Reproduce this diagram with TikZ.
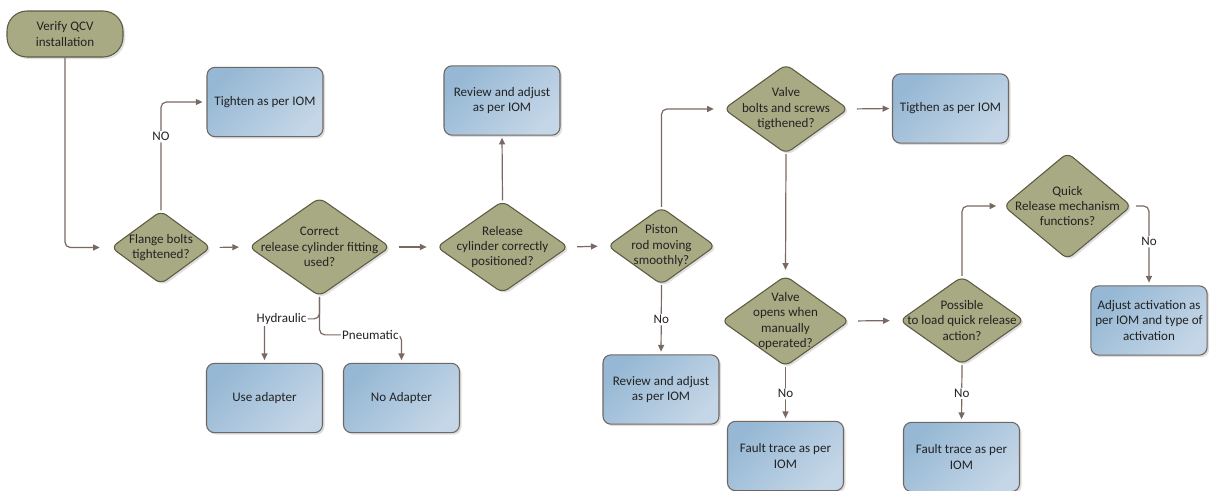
\documentclass[tikz,border=0pt]{standalone}
\usepackage{fontspec}
\setmainfont{Carlito}
\usetikzlibrary{shapes.geometric,arrows.meta,shadows}
\definecolor{decfill}{RGB}{167,170,131}
\definecolor{decline}{RGB}{95,90,66}
\definecolor{boxa}{RGB}{150,184,212}
\definecolor{boxb}{RGB}{196,214,231}
\definecolor{boxline}{RGB}{112,103,98}
\definecolor{linec}{RGB}{122,104,99}
\definecolor{txt}{RGB}{35,35,35}
\tikzset{
	shadowed/.style={drop shadow={shadow xshift=1.5pt,shadow yshift=-1.5pt,opacity=0.25}},
	startbox/.style={rectangle,rounded corners=15pt,draw=decline,fill=decfill,line width=0.8pt,
		minimum width=87pt,minimum height=34.5pt,align=center,shadowed},
	decision/.style={diamond,rounded corners=5pt,draw=decline,fill=decfill,line width=0.8pt,
		inner sep=0pt,shadowed},
	dectext/.style={align=center},
	action/.style={rectangle,rounded corners=6pt,draw=boxline,line width=0.8pt,
		top color=boxa,bottom color=boxb,shading angle=45,
		minimum width=87pt,minimum height=52pt,align=center,shadowed},
	flow/.style={draw=linec,line width=0.9pt,rounded corners=4pt,-{Triangle[length=5pt,width=4.5pt]}},
	lbl/.style={fill=white,inner sep=1pt}
}

\begin{document}
\begin{tikzpicture}[x=0.75pt,y=-0.75pt,every node/.style={font=\fontsize{9.8}{11.6}\selectfont,text=txt}]
	\useasboundingbox (0,0) rectangle (1210,490);
	\node (start) at(65,34) [startbox]{Verify QCV\\installation};
	\node (tight1) at(265,102) [action]{Tighten as per IOM};
	\node (rev1) at(502,100.5) [action]{Review and adjust\\as per IOM};
	\node (rev2) at(661,389.5) [action]{Review and adjust\\as per IOM};
	\node (tight2) at(950.5,108.5) [action]{Tigthen as per IOM};
	\node (fault1) at(785.5,456) [action]{Fault trace as per\\IOM};
	\node (fault2) at(961.5,457) [action]{Fault trace as per\\IOM};
	\node (adjust) at(1149,320.5) [action]{Adjust activation as\\per IOM and type of\\activation};
	\node (use) at(264.5,398) [action]{Use adapter};
	\node (noad) at(401.5,398) [action]{No Adapter};

	\node (flange) at(161,247.5) [decision,minimum width=75pt,minimum height=55pt,
		label={[dectext]center:{Flange bolts\\tightened?}}]{};
	\node (corr) at(319.5,247) [decision,minimum width=106pt,minimum height=74pt,
		label={[dectext]center:{Correct\\release cylinder fitting\\used?}}]{};
	\node (rel) at(502.5,247) [decision,minimum width=99pt,minimum height=69pt,
		label={[dectext]center:{Release\\cylinder correctly\\positioned?}}]{};
	\node (piston) at(661.5,246) [decision,minimum width=81pt,minimum height=58pt,
		label={[dectext]center:{Piston\\rod moving\\smoothly?}}]{};
	\node (vbolt) at(786,109) [decision,minimum width=93.5pt,minimum height=67pt,
		label={[dectext]center:{Valve\\bolts and screws\\tigthened?}}]{};
	\node (vopen) at(785.5,321) [decision,minimum width=96pt,minimum height=68pt,
		label={[dectext]center:{Valve\\opens when\\manually\\operated?}}]{};
	\node (poss) at(962,320.5) [decision,minimum width=93.5pt,minimum height=66pt,
		label={[dectext]center:{Possible\\to load quick release\\action?}}]{};
	\node (quick) at(1067.5,206) [decision,minimum width=96pt,minimum height=80pt,
		label={[dectext]center:{Quick\\Release mechanism\\functions?}}]{};

	\draw [flow,shorten >=8pt](start.south) |- (flange.west);
	\draw [flow,shorten >=3pt](flange.north) |- node[lbl,pos=0.34]{NO} (tight1.west);
	\draw [flow,shorten <=6pt,shorten >=7pt](flange.east) -- (corr.west);
	\draw [flow,shorten <=6pt,shorten >=7pt](corr.east) -- (rel.west);
	\draw [flow,shorten <=6pt,shorten >=7pt](rel.east) -- (piston.west);
	\draw [flow,shorten >=1.5pt](rel.north) -- (rev1.south);
	\draw [flow,shorten >=7pt](piston.north) |- (vbolt.west);
	\draw [flow,shorten <=6pt,shorten >=2pt](vbolt.east) -- (tight2.west);
	\draw [flow,shorten >=4pt](vbolt.south) -- (vopen.north);
	\draw [flow,shorten <=6pt,shorten >=7pt](vopen.east) -- (poss.west);
	\draw [flow,shorten >=5pt](poss.north) |- (quick.west);
	\draw [flow,shorten <=3pt,shorten >=2pt](quick.east) -| node[lbl,pos=0.725]{No} (adjust.north);
	\foreach \a/\b in {piston/rev2,vopen/fault1,poss/fault2}
		\draw [flow,shorten >=2pt](\a.south) -- node[lbl]{No} (\b.north);
	\draw [flow,shorten >=2pt](corr.south) -- ([yshift=-16.5pt]corr.south) -| node[lbl,pos=0.345]{Hydraulic} (use.north);
	\draw [flow,shorten >=2pt](corr.south) -- ([yshift=-28.5pt]corr.south) -| node[lbl,pos=0.31]{Pneumatic} (noad.north);
\end{tikzpicture}
\end{document}
